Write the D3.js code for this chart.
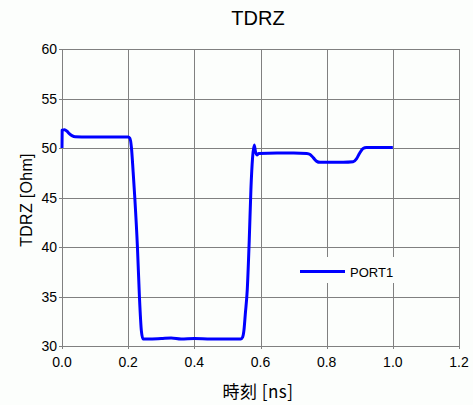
<!DOCTYPE html>
<html><head><meta charset="utf-8">
<script src="https://cdn.jsdelivr.net/npm/d3@7/dist/d3.min.js"></script>
<style>body{margin:0;background:#fcfefc;} svg{display:block;}</style>
</head><body>
<svg id="c" width="473" height="405"></svg>
<script>
const title = "TDRZ";
const xLabel = "時刻 [ns]";
const yLabel = "TDRZ [Ohm]";
const seriesName = "PORT1";
const xTicks = [0, 0.2, 0.4, 0.6, 0.8, 1.0, 1.2];
const yTicks = [30, 35, 40, 45, 50, 55, 60];
const timeNs = [0, 0.0005, 0.008, 0.015, 0.022, 0.03, 0.04, 0.06, 0.1, 0.15, 0.2, 0.205, 0.21, 0.215, 0.22, 0.228, 0.234, 0.24, 0.245, 0.26, 0.3, 0.33, 0.36, 0.4, 0.45, 0.5, 0.54, 0.546, 0.55, 0.554, 0.56, 0.566, 0.571, 0.576, 0.581, 0.585, 0.589, 0.595, 0.65, 0.7, 0.74, 0.75, 0.76, 0.77, 0.78, 0.85, 0.88, 0.89, 0.9, 0.91, 0.92, 1.0];
const tdrz   = [50.0, 51.8, 51.85, 51.7, 51.45, 51.25, 51.13, 51.12, 51.12, 51.12, 51.1, 51.0, 50.0, 47.6, 45.0, 40.0, 35.0, 31.5, 30.7, 30.7, 30.75, 30.8, 30.7, 30.75, 30.7, 30.7, 30.7, 30.9, 31.6, 33.2, 35.7, 40.7, 45.8, 49.0, 50.3, 49.6, 49.3, 49.45, 49.5, 49.5, 49.45, 49.35, 49.0, 48.65, 48.55, 48.55, 48.6, 48.9, 49.5, 49.95, 50.05, 50.05];

const svg = d3.select("#c");
const m = {l:62, r:14, t:49, b:59};
const W = 473, H = 405;
const x = d3.scaleLinear().domain([0, 1.2]).range([m.l, W - m.r]);
const y = d3.scaleLinear().domain([30, 60]).range([H - m.b, m.t]);
const grid = "#808080";
const font = "'Liberation Sans', Arial, sans-serif";

// grid
svg.append("g").selectAll("line").data(xTicks).join("line")
  .attr("x1", d => Math.round(x(d)) + 0.5).attr("x2", d => Math.round(x(d)) + 0.5)
  .attr("y1", m.t).attr("y2", H - m.b + 3).attr("stroke", grid);
svg.append("g").selectAll("line").data(yTicks).join("line")
  .attr("x1", m.l - 3).attr("x2", W - m.r)
  .attr("y1", d => Math.round(y(d)) + 0.5).attr("y2", d => Math.round(y(d)) + 0.5).attr("stroke", grid);

// tick labels
svg.append("g").selectAll("text").data(yTicks).join("text")
  .attr("x", m.l - 5).attr("y", d => y(d) + 5).attr("text-anchor", "end")
  .attr("font-family", font).attr("font-size", 14).attr("fill", "#000").text(d => d);
svg.append("g").selectAll("text").data(xTicks).join("text")
  .attr("x", d => x(d)).attr("y", H - m.b + 21).attr("text-anchor", "middle")
  .attr("font-family", font).attr("font-size", 14).attr("fill", "#000").text(d => d3.format(".1f")(d));

// legend background
svg.append("rect").attr("x", 290).attr("y", 257).attr("width", 110).attr("height", 26).attr("fill", "#fcfefc");

// data line
const line = d3.line().x((d, i) => x(timeNs[i])).y(d => y(d)).curve(d3.curveMonotoneX);
svg.append("path").attr("d", line(tdrz)).attr("fill", "none").attr("stroke", "#0000ff")
  .attr("stroke-width", 3).attr("stroke-linejoin", "round");

// legend
svg.append("line").attr("x1", 300).attr("x2", 345).attr("y1", 271.5).attr("y2", 271.5)
  .attr("stroke", "#0000ff").attr("stroke-width", 3);
svg.append("text").attr("x", 350).attr("y", 277).attr("font-family", font).attr("font-size", 13)
  .text(seriesName);

// titles
svg.append("text").attr("x", 258).attr("y", 25).attr("text-anchor", "middle")
  .attr("font-family", font).attr("font-size", 20).text(title);
svg.append("text").attr("x", 258).attr("y", 398).attr("text-anchor", "middle")
  .attr("font-family", "'Noto Sans CJK JP', sans-serif").attr("font-size", 17).attr("letter-spacing", 0.5).text(xLabel);
svg.append("text").attr("transform", "translate(32,200) rotate(-90)").attr("text-anchor", "middle")
  .attr("font-family", font).attr("font-size", 16).attr("letter-spacing", 0.3).text(yLabel);
</script>
</body></html>
